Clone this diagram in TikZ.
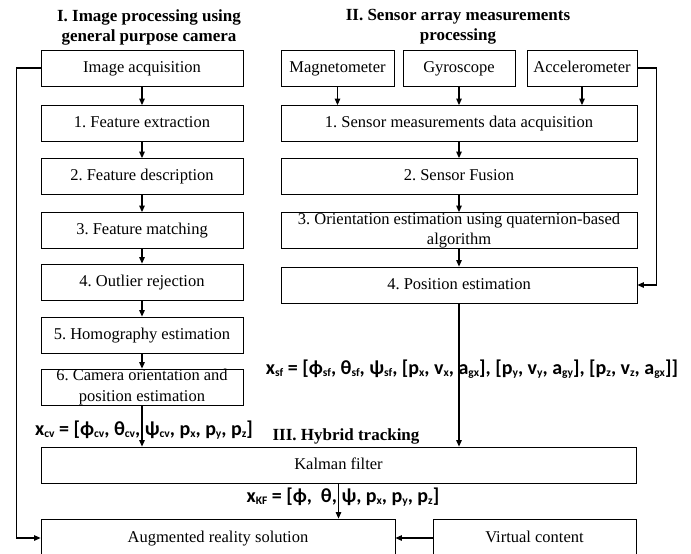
\documentclass[tikz,border=0pt]{standalone}
\usepackage{fontspec}
\setmainfont{Liberation Serif}
\newfontfamily\vecfont{Carlito}
\usetikzlibrary{arrows.meta, calc}
\newcommand\lo[1]{\raisebox{-.2ex}{\fontsize{11.5}{11.5}\selectfont #1}}
\frenchspacing

\tikzset{
  box/.style={draw, line width=0.8pt, minimum height=36pt, inner sep=0pt, text height=11.5pt, text depth=3.5pt, font=\fontsize{16.5}{19}\selectfont},
  boxtext/.style={font=\fontsize{16.5}{20.5}\selectfont, align=center, inner sep=0pt},
  head/.style={font=\bfseries\fontsize{17}{20}\selectfont, align=center},
  vec/.style={font=\vecfont\bfseries\fontsize{20}{22}\selectfont, inner sep=0pt},
  flow/.style={-{Triangle[length=6.5pt,width=5.5pt]}, line width=1.1pt},
}

\begin{document}
\begin{tikzpicture}[x=1pt, y=-1pt]
  \clip (0,0) rectangle (691,554);

  % titles
  \node[head] (t1) at (149,27) {I. Image processing using\\general purpose camera};
  \node[head] (t2) at (458,27) {II. Sensor array measurements\\processing};
  \node[head] (t3) at (346,436) {III. Hybrid tracking};

  % image processing chain
  \node[box, minimum width=202pt] (acq) at (142,68) {Image acquisition};
  \node[box, minimum width=202pt] (fe) at (142,123.5) {1. Feature extraction};
  \node[box, minimum width=202pt] (fd) at (142,176.5) {2. Feature description};
  \node[box, minimum width=202pt] (fm) at (142,230.5) {3. Feature matching};
  \node[box, minimum width=202pt] (outl) at (142,282) {4. Outlier rejection};
  \node[box, minimum width=202pt] (homo) at (142,335) {5. Homography estimation};
  \node[box, minimum width=202pt] (cam) at (142,387) {};
  \node[boxtext] (camt) at (cam) {6. Camera orientation and\\position estimation};

  % sensor chain
  \node[box, minimum width=113pt] (mag) at (337.5,68) {Magnetometer};
  \node[box, minimum width=112pt] (gyr) at (459,68) {Gyroscope};
  \node[box, minimum width=110pt] (acc) at (582,68) {Accelerometer};
  \node[box, minimum width=356pt] (sda) at (459,123.5) {1. Sensor measurements data acquisition};
  \node[box, minimum width=356pt] (sfu) at (459,176.5) {2. Sensor Fusion};
  \node[box, minimum width=356pt] (ori) at (459,230.5) {};
  \node[boxtext] (orit) at (ori) {3. Orientation estimation using quaternion-based\\algorithm};
  \node[box, minimum width=356pt] (pos) at (459,285) {4. Position estimation};

  % hybrid tracking
  \node[box, minimum width=595pt] (kal) at (338.5,465) {Kalman filter};
  \node[box, minimum width=354pt, minimum height=38pt] (ar) at (218,538) {Augmented reality solution};
  \node[box, minimum width=203pt, minimum height=38pt] (vc) at (534.5,538) {Virtual content};

  % state vectors
  \node[vec] (xsf) at (472,369) {x\lo{sf} = [ϕ\lo{sf}, θ\lo{sf}, ψ\lo{sf}, [p\lo{x}, v\lo{x}, a\lo{gx}], [p\lo{y}, v\lo{y}, a\lo{gy}], [p\lo{z}, v\lo{z}, a\lo{gx}]]};
  \node[vec] (xcv) at (144,430) {x\lo{cv} = [ϕ\lo{cv}, θ\lo{cv}, ψ\lo{cv}, p\lo{x}, p\lo{y}, p\lo{z}]};
  \node[vec] (xkf) at (343,497) {x\lo{KF} = [ϕ,\ \ θ, ψ, p\lo{x}, p\lo{y}, p\lo{z}]};

  % arrows
  \draw[flow] (acq) -- (fe);
  \draw[flow] (fe) -- (fd);
  \draw[flow] (fd) -- (fm);
  \draw[flow] (fm) -- (outl);
  \draw[flow] (outl) -- (homo);
  \draw[flow] (homo) -- (cam);
  \draw[flow] (mag) -- (mag |- sda.north);
  \draw[flow] (gyr) -- (gyr |- sda.north);
  \draw[flow] (acc) -- (acc |- sda.north);
  \draw[flow] (sda) -- (sfu);
  \draw[flow] (sfu) -- (ori);
  \draw[flow] (ori) -- (pos);
  \draw[flow] (acc.east) -- ++(19,0) |- (pos.east);
  \draw[flow] (acq.west) -- ++(-24,0) |- (ar.west);
  \draw[flow] (pos) -- (pos |- kal.north);
  \draw[flow] (cam) -- (cam |- kal.north);
  \draw[flow] (kal) -- (kal |- ar.north);
  \draw[flow] (vc) -- (ar);
\end{tikzpicture}
\end{document}
